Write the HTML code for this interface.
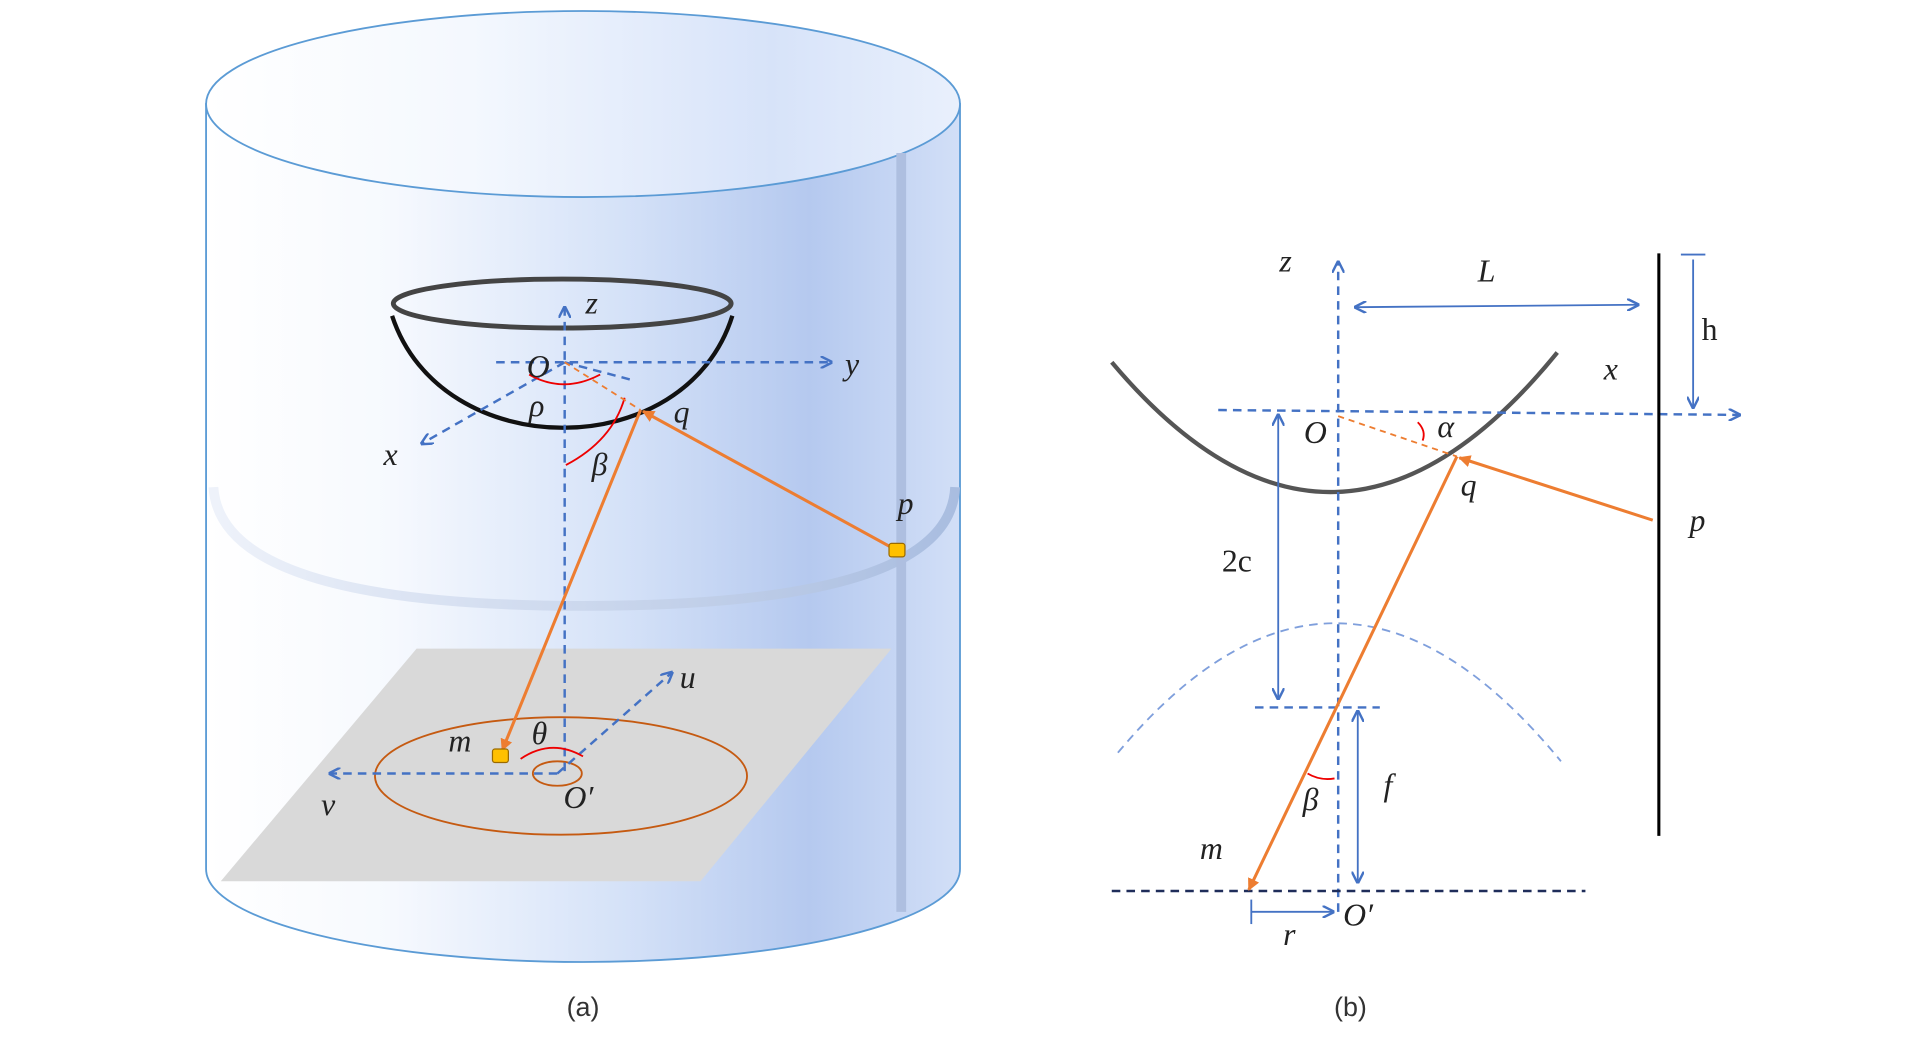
<!DOCTYPE html>
<html><head><meta charset="utf-8"><style>html,body{margin:0;padding:0;background:#fff}svg{display:block}
.lbl{font-family:"Liberation Serif",serif;font-style:italic;font-size:26px;fill:#222}
.cap{font-family:"Liberation Sans",sans-serif;font-size:22px;fill:#333}</style></head>
<body>
<svg width="1920" height="1044" viewBox="0 0 1568 853">
<defs>
<linearGradient id="cyl" x1="0" x2="1" y1="0" y2="0">
<stop offset="0" stop-color="#ffffff"/><stop offset="0.25" stop-color="#f6f9fe"/><stop offset="0.55" stop-color="#d5e2f8"/><stop offset="0.8" stop-color="#b5c9ef"/><stop offset="1" stop-color="#d2dff7"/></linearGradient>
<linearGradient id="top" x1="0" x2="1" y1="0" y2="0">
<stop offset="0" stop-color="#ffffff"/><stop offset="0.35" stop-color="#f4f8fe"/><stop offset="0.75" stop-color="#d7e3f9"/><stop offset="1" stop-color="#e9f0fc"/></linearGradient>
<linearGradient id="ring" x1="0" x2="1"><stop offset="0" stop-color="#eef2fa"/><stop offset="1" stop-color="#a9bde0"/></linearGradient>
<marker id="ab" markerWidth="10" markerHeight="10" refX="8" refY="5" orient="auto-start-reverse" markerUnits="userSpaceOnUse"><path d="M0,0 L10,5 L0,10" fill="none" stroke="#4472c4" stroke-width="2"/></marker>
<marker id="ao" markerWidth="10" markerHeight="10" refX="9" refY="5" orient="auto" markerUnits="userSpaceOnUse"><path d="M0,0 L10,5 L0,10 z" fill="#ed7d31"/></marker>
</defs>
<g>
<path d="M168,85 L168,710 A308,76 0 0 0 784,710 L784,85 Z" fill="url(#cyl)" stroke="#5b9bd5" stroke-width="1.5"/>
<ellipse cx="476" cy="85" rx="308" ry="76" fill="url(#top)" stroke="#5b9bd5" stroke-width="1.5"/>
<path d="M174,398 Q180,495 476,495 Q776,495 780,398" fill="none" stroke="url(#ring)" stroke-width="8"/>
<line x1="736" y1="125" x2="736" y2="745" stroke="#aebfe0" stroke-width="8"/>
<polygon points="340,530 728,530 572,720 180,720" fill="#d9d9d9"/>
<ellipse cx="458" cy="634" rx="152" ry="48" fill="none" stroke="#c55a11" stroke-width="1.5"/>
<ellipse cx="455" cy="632" rx="20" ry="10" fill="none" stroke="#c55a11" stroke-width="1.5"/>
<path d="M320,258 C360,380 560,380 598,258" fill="none" stroke="#111" stroke-width="3.5"/>
<ellipse cx="459" cy="248" rx="138" ry="20" fill="none" stroke="#444" stroke-width="4"/>
<g stroke="#4472c4" stroke-width="2" stroke-dasharray="7,5" fill="none">
<line x1="461" y1="630" x2="461" y2="252" marker-end="url(#ab)"/>
<line x1="405" y1="296" x2="678" y2="296" marker-end="url(#ab)"/>
<line x1="461" y1="296" x2="345" y2="362" marker-end="url(#ab)"/>
<line x1="455" y1="632" x2="270" y2="632" marker-end="url(#ab)"/>
<line x1="455" y1="632" x2="548" y2="550" marker-end="url(#ab)"/>
<line x1="461" y1="296" x2="518" y2="311"/>
</g>
<path d="M432,306 Q460,322 490,306" fill="none" stroke="#e00" stroke-width="1.5"/>
<path d="M462,380 Q500,360 510,325" fill="none" stroke="#e00" stroke-width="1.5"/>
<path d="M425,620 Q450,603 476,618" fill="none" stroke="#e00" stroke-width="1.5"/>
<line x1="461" y1="296" x2="523" y2="335" stroke="#ed7d31" stroke-width="1.5" stroke-dasharray="5,4"/>
<line x1="733" y1="450" x2="525" y2="336" stroke="#ed7d31" stroke-width="2.5" marker-end="url(#ao)"/>
<line x1="523" y1="335" x2="410" y2="613" stroke="#ed7d31" stroke-width="2.5" marker-end="url(#ao)"/>
<rect x="726" y="444" width="13" height="11" rx="2" fill="#ffc000" stroke="#9a6a00"/>
<rect x="402" y="612" width="13" height="11" rx="2" fill="#ffc000" stroke="#9a6a00"/>
<text class="lbl" x="478" y="256">z</text><text class="lbl" x="690" y="306">y</text>
<text class="lbl" x="430" y="308">O</text><text class="lbl" x="313" y="380">x</text>
<text class="lbl" x="432" y="340">ρ</text><text class="lbl" x="483" y="388">β</text>
<text class="lbl" x="550" y="345">q</text><text class="lbl" x="733" y="420">p</text>
<text class="lbl" x="555" y="562">u</text><text class="lbl" x="366" y="614">m</text>
<text class="lbl" x="434" y="608">θ</text><text class="lbl" x="460" y="660">O′</text>
<text class="lbl" x="262" y="666">v</text>
<text class="cap" x="476" y="830" text-anchor="middle">(a)</text>
</g>
<g>
<path d="M913,615 Q1093,400 1275,622" fill="none" stroke="#7f9fdc" stroke-width="1.5" stroke-dasharray="7,5"/>
<path d="M908,296 Q1090,512 1272,288" fill="none" stroke="#555" stroke-width="3.5"/>
<g stroke="#4472c4" stroke-width="2" stroke-dasharray="7,5" fill="none">
<line x1="1093" y1="745" x2="1093" y2="215" marker-end="url(#ab)"/>
<line x1="995" y1="335" x2="1420" y2="339" marker-end="url(#ab)"/>
<line x1="1025" y1="578" x2="1127" y2="578"/>
</g>
<line x1="908" y1="728" x2="1295" y2="728" stroke="#1f2d5a" stroke-width="2" stroke-dasharray="7,5"/>
<line x1="1355" y1="207" x2="1355" y2="683" stroke="#000" stroke-width="2.5"/>
<g stroke="#4472c4" stroke-width="1.5" fill="none">
<line x1="1108" y1="251" x2="1337" y2="249" marker-start="url(#ab)" marker-end="url(#ab)"/>
<line x1="1383" y1="212" x2="1383" y2="332" marker-end="url(#ab)"/>
<line x1="1373" y1="208" x2="1393" y2="208"/>
<line x1="1044" y1="340" x2="1044" y2="570" marker-start="url(#ab)" marker-end="url(#ab)"/>
<line x1="1109" y1="582" x2="1109" y2="720" marker-start="url(#ab)" marker-end="url(#ab)"/>
<line x1="1022" y1="745" x2="1088" y2="745" marker-end="url(#ab)"/>
<line x1="1022" y1="735" x2="1022" y2="755"/>
</g>
<path d="M1158,345 Q1165,352 1162,360" fill="none" stroke="#e00" stroke-width="1.5"/>
<path d="M1068,632 Q1078,638 1090,636" fill="none" stroke="#e00" stroke-width="1.5"/>
<line x1="1093" y1="340" x2="1190" y2="373" stroke="#ed7d31" stroke-width="1.5" stroke-dasharray="5,4"/>
<line x1="1350" y1="425" x2="1192" y2="374" stroke="#ed7d31" stroke-width="2.5" marker-end="url(#ao)"/>
<line x1="1190" y1="373" x2="1020" y2="727" stroke="#ed7d31" stroke-width="2.5" marker-end="url(#ao)"/>
<text class="lbl" x="1045" y="222">z</text><text class="lbl" x="1207" y="230">L</text>
<text class="lbl" x="1390" y="278" style="font-style:normal">h</text>
<text class="lbl" x="1310" y="310">x</text><text class="lbl" x="1065" y="362">O</text>
<text class="lbl" x="1174" y="357">α</text><text class="lbl" x="1193" y="405">q</text>
<text class="lbl" x="1380" y="434">p</text><text class="lbl" x="998" y="467" style="font-style:normal">2c</text>
<text class="lbl" x="1130" y="650">f</text><text class="lbl" x="1064" y="662">β</text>
<text class="lbl" x="980" y="702">m</text><text class="lbl" x="1097" y="756">O′</text>
<text class="lbl" x="1048" y="772">r</text>
<text class="cap" x="1103" y="830" text-anchor="middle">(b)</text>
</g>
</svg>
</body></html>
